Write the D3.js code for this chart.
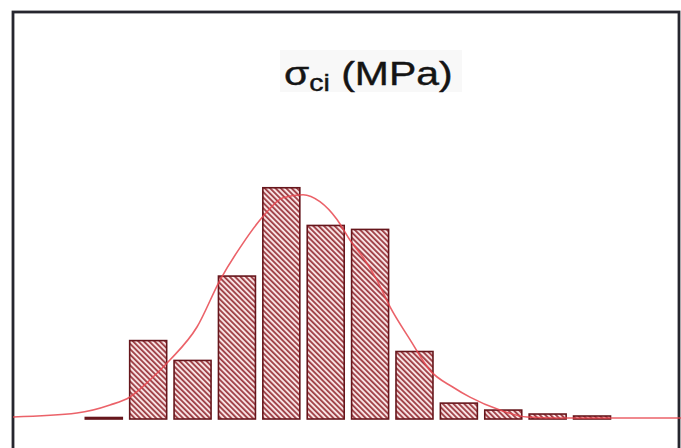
<!DOCTYPE html>
<html>
<head>
<meta charset="utf-8">
<script src="https://cdn.jsdelivr.net/npm/d3@7/dist/d3.min.js"></script>
<style>
  html, body { margin: 0; padding: 0; background: #ffffff; }
  svg { display: block; }
</style>
</head>
<body>
<div id="chart"></div>
<script>
// ---- data ----
const binStarts = [40, 60, 80, 100, 120, 140, 160, 180, 200, 220, 240, 260]; // MPa
const binWidth = 20;
const frequencies = [0.15, 7.9, 5.9, 14.4, 23.3, 19.5, 19.1, 6.8, 1.6, 0.9, 0.5, 0.3]; // %
const curveX = [9, 37.8, 52.7, 61.7, 70.7, 79.7, 91.9, 102.3, 112.6, 121.6, 130.7, 139.7, 147.3, 155.0, 160.9, 166.7, 173.0, 178.9, 187.9, 196.9, 207.3, 214.9, 228.4, 240.6, 255.5, 310];
const curveY = [0.2, 0.6, 1.41, 2.22, 3.93, 5.94, 9.27, 14.0, 17.7, 20.4, 22.3, 22.6, 21.9, 20.1, 18.0, 16.3, 14.0, 11.3, 8.0, 4.9, 3.2, 2.2, 0.9, 0.2, 0.1, 0.1];
const titleMain = "σ";
const titleSub = "ci";
const titleUnit = " (MPa)";

// ---- layout ----
const W = 681, H = 448;
const svg = d3.select("#chart").append("svg").attr("width", W).attr("height", H);

const x = d3.scaleLinear().domain([9, 310]).range([13, 681]);
const y = d3.scaleLinear().domain([0, 40]).range([419, 22]);

const defs = svg.append("defs");
const pat = defs.append("pattern")
  .attr("id", "hatch")
  .attr("patternUnits", "userSpaceOnUse")
  .attr("width", 3.8).attr("height", 3.8)
  .attr("patternTransform", "rotate(-45)");
pat.append("rect").attr("width", 3.8).attr("height", 3.8).attr("fill", "#f8e2e3");
pat.append("line").attr("x1", 0.9).attr("y1", 0).attr("x2", 0.9).attr("y2", 3.8)
  .attr("stroke", "#92282f").attr("stroke-width", 1.6);

// frame
svg.append("rect")
  .attr("x", 13).attr("y", 12).attr("width", 666).attr("height", 460)
  .attr("fill", "#ffffff").attr("stroke", "#26262e").attr("stroke-width", 2.8);

// faint box behind title
svg.append("rect")
  .attr("x", 280).attr("y", 50).attr("width", 182).attr("height", 42)
  .attr("fill", "#f8f8f8");

// bars
const data = binStarts.map((b, i) => ({ b, v: frequencies[i] }));
svg.append("g").selectAll("rect").data(data).join("rect")
  .attr("x", d => x(d.b) + 3.5)
  .attr("width", d => x(d.b + binWidth) - x(d.b) - 7.4)
  .attr("y", d => y(d.v))
  .attr("height", d => Math.max(1.5, y(0) - y(d.v)))
  .attr("fill", "url(#hatch)")
  .attr("stroke", "#66161c")
  .attr("stroke-width", 1.6);

// fitted curve
const pts = curveX.map((cx, i) => [cx, curveY[i]]);
const line = d3.line().x(d => x(d[0])).y(d => y(d[1])).curve(d3.curveMonotoneX);
svg.append("path")
  .attr("d", line(pts))
  .attr("fill", "none")
  .attr("stroke", "#e8474f")
  .attr("stroke-width", 1.6)
  .attr("stroke-opacity", 0.85);

// title
const tg = svg.append("g").attr("transform", "translate(284,85) scale(1.24,1)");
const t = tg.append("text")
  .attr("x", 0).attr("y", 0)
  .attr("font-family", "Liberation Sans, Arial, sans-serif")
  .attr("font-size", 33)
  .attr("fill", "#141414")
  .attr("stroke", "#141414").attr("stroke-width", 0.4);
t.append("tspan").text(titleMain);
t.append("tspan").attr("font-size", 23).attr("dy", 6).text(titleSub);
t.append("tspan").attr("dy", -6).text(titleUnit);
</script>
</body>
</html>
